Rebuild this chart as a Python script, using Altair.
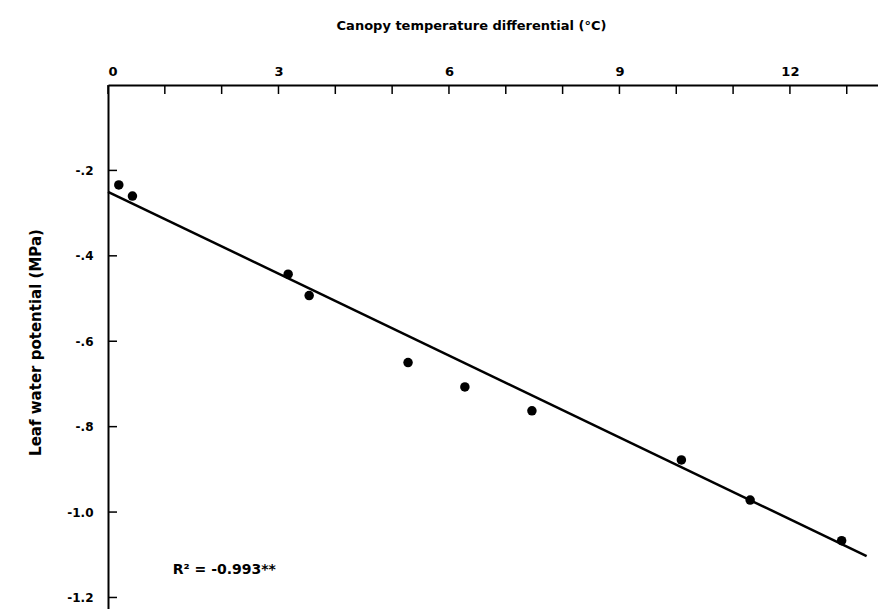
import altair as alt
import pandas as pd

# Values
temp_diff = [0.19, 0.43, 3.17, 3.54, 5.28, 6.28, 7.46, 10.09, 11.30, 12.91]
leaf_wp = [-0.234, -0.260, -0.443, -0.493, -0.650, -0.707, -0.763, -0.878, -0.972, -1.067]
fit_x = [0.0, 13.35]
fit_y = [-0.250, -1.103]
x_minor_ticks = list(range(0, 14))
x_label_values = [0, 3, 6, 9, 12]
y_tick_values = [-0.2, -0.4, -0.6, -0.8, -1.0, -1.2]
y_tick_labels = ["-.2", "-.4", "-.6", "-.8", "-1.0", "-1.2"]
annotation_text = ["R² = -0.993**"]
annotation_x = [1.14]
annotation_y = [-1.136]
x_title = "Canopy temperature differential (°C)"
y_title = "Leaf water potential (MPa)"

FONT = "DejaVu Sans"

points_df = pd.DataFrame({"x": temp_diff, "y": leaf_wp})
fit_df = pd.DataFrame({"x": fit_x, "y": fit_y})
xt_df = pd.DataFrame({"x": x_minor_ticks})
yt_df = pd.DataFrame({"y": y_tick_values})
ann_df = pd.DataFrame({"x": annotation_x, "y": annotation_y, "t": annotation_text})

# label expression built from the tick-label list
expr = "''"
for v, lab in zip(reversed(y_tick_values), reversed(y_tick_labels)):
    expr = f"abs(datum.value - ({v})) < 0.001 ? '{lab}' : ({expr})"

xs = alt.Scale(domain=[0, 13.55], nice=False, zero=False)
ys = alt.Scale(domain=[-1.227, 0], nice=False, zero=False)

x_axis = alt.Axis(
    orient="top", values=x_label_values, ticks=False, grid=False,
    domainColor="black", domainWidth=2, labelPadding=7,
    labelFont=FONT, labelFontSize=13, labelFontWeight="bold", labelColor="black",
    title=x_title, titleFont=FONT, titleFontSize=13, titleFontWeight="bold",
    titleColor="black", titleX=363, titleY=-60, titleAlign="center",
    titleBaseline="middle",
)
y_axis = alt.Axis(
    orient="left", values=y_tick_values, ticks=False, grid=False,
    domainColor="black", domainWidth=2, labelPadding=15, labelExpr=expr,
    labelFont=FONT, labelFontSize=12, labelFontWeight="bold", labelColor="black",
    title=y_title, titleFont=FONT, titleFontSize=15, titleFontWeight="bold",
    titleColor="black", titleX=-73, titleY=257, titleAlign="center",
    titleBaseline="middle", titleAngle=270,
)

X = alt.X("x:Q", scale=xs, axis=x_axis)
Y = alt.Y("y:Q", scale=ys, axis=y_axis)

fit = alt.Chart(fit_df).mark_line(color="black", strokeWidth=2.5).encode(x=X, y=Y)
pts = alt.Chart(points_df).mark_circle(color="black", opacity=1, size=90).encode(x=X, y=Y)
xticks = alt.Chart(xt_df).mark_rule(color="black", strokeWidth=1.5).encode(
    x=X, y=alt.value(0), y2=alt.value(9)
)
yticks = alt.Chart(yt_df).mark_rule(color="black", strokeWidth=1.5).encode(
    y=Y, x=alt.value(0), x2=alt.value(9)
)
ann = alt.Chart(ann_df).mark_text(
    align="left", baseline="middle", font=FONT, fontSize=14, fontWeight="bold", color="black"
).encode(x=X, y=Y, text="t:N")

chart = (
    alt.layer(fit, pts, xticks, yticks, ann)
    .properties(
        width=770, height=524,
        autosize=alt.AutoSizeParams(type="none"),
        padding={"left": 108, "top": 85, "right": 0, "bottom": 0},
        background="white",
    )
    .configure_view(stroke=None)
)

chart.save("out.html", embed_options={"renderer": "svg", "actions": False})
